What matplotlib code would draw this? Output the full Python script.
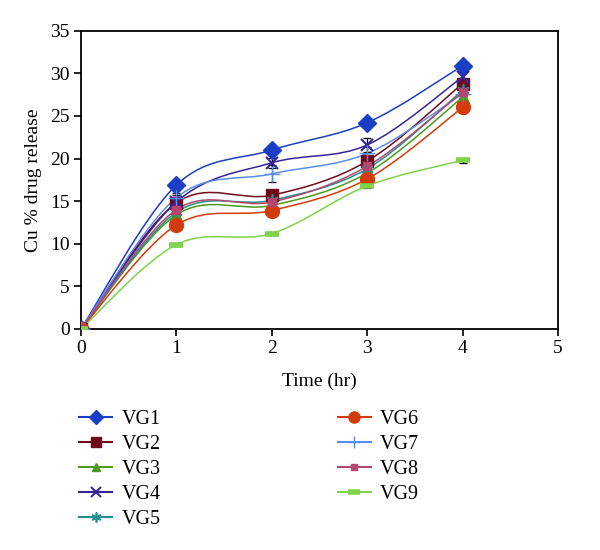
import numpy as np
import matplotlib
matplotlib.use("Agg")
import matplotlib.pyplot as plt
from matplotlib.path import Path
from matplotlib.patches import PathPatch
from matplotlib.lines import Line2D

plt.rcParams["font.family"] = ["Liberation Serif", "DejaVu Serif"]

time_hr = [0, 1, 2, 3, 4]
series_names = ["VG1", "VG2", "VG3", "VG4", "VG5", "VG6", "VG7", "VG8", "VG9"]

vg1 = [0, 16.9, 21.0, 24.2, 30.9]
vg2 = [0, 14.8, 15.7, 19.7, 28.8]
vg3 = [0, 13.4, 14.5, 18.3, 27.2]
vg4 = [0, 14.9, 19.5, 21.6, 29.6]
vg5 = [0, 13.7, 15.1, 18.8, 28.0]
vg6 = [0, 12.2, 13.9, 17.6, 26.0]
vg7 = [0, 15.4, 18.2, 20.6, 27.6]
vg8 = [0, 14.0, 14.9, 19.1, 27.8]
vg9 = [0, 9.9, 11.2, 16.8, 19.8]

err1 = [0, 0.3, 0.3, 0.3, 0.3]
err2 = [0, 0.9, 0.5, 0.6, 0.5]
err3 = [0, 0.4, 0.4, 0.4, 0.4]
err4 = [0, 0.5, 0.6, 0.8, 0.5]
err5 = [0, 0.4, 0.4, 0.4, 0.4]
err6 = [0, 0.4, 0.4, 0.4, 0.6]
err7 = [0, 0.5, 1.0, 0.7, 0.5]
err8 = [0, 0.4, 0.4, 0.4, 0.4]
err9 = [0, 0.2, 0.2, 0.2, 0.3]

values = [vg1, vg2, vg3, vg4, vg5, vg6, vg7, vg8, vg9]
errors = [err1, err2, err3, err4, err5, err6, err7, err8, err9]

colors = ["#1b3fc4", "#70091c", "#4a9a1c", "#35259a", "#24908e",
          "#d23c0c", "#5a8ee6", "#b24872", "#7fd24a"]
markers = ["D", "s", "^", "x", (6, 2, 0), "o", "+", "s", "_"]
msizes = [9, 9, 8, 9, 9, 10, 11, 6, 10]
mews = [1, 1, 1, 1.5, 1.2, 1, 1, 1, 4]


def smooth_path(x, y):
    # Catmull-Rom style bezier through the points (like Excel "smoothed line")
    pts = np.column_stack([x, y]).astype(float)
    n = len(pts)
    verts = [pts[0]]
    codes = [Path.MOVETO]
    for i in range(n - 1):
        p0 = pts[max(i - 1, 0)]
        p1 = pts[i]
        p2 = pts[i + 1]
        p3 = pts[min(i + 2, n - 1)]
        verts += [p1 + (p2 - p0) / 6.0, p2 - (p3 - p1) / 6.0, p2]
        codes += [Path.CURVE4] * 3
    return Path(verts, codes)


fig = plt.figure(figsize=(6, 5.5), dpi=100)
ax = fig.add_axes([0.135, 0.402, 0.795, 0.542])

handles = []
for name, y, e, c, m, ms, mew in zip(series_names, values, errors, colors,
                                     markers, msizes, mews):
    ax.add_patch(PathPatch(smooth_path(time_hr, y), facecolor="none",
                           edgecolor=c, lw=1.1, zorder=2))
    ax.errorbar(time_hr, y, yerr=e, fmt="none", ecolor="black",
                elinewidth=0.9, capsize=3, capthick=0.9, zorder=3)
    ax.plot(time_hr, y, linestyle="none", marker=m, markersize=ms,
            color=c, markeredgecolor=c, markeredgewidth=mew, zorder=4)
    handles.append(Line2D([], [], color=c, lw=1.5, marker=m,
                          markersize=ms * 0.8, markeredgewidth=mew))

ax.set_xlim(0, 5)
ax.set_ylim(0, 35)
ax.set_xticks(range(0, 6))
ax.set_yticks(range(0, 36, 5))
ax.tick_params(direction="out", length=5, width=1.2, labelsize=14,
               top=False, right=False, pad=3)
for s in ax.spines.values():
    s.set_linewidth(1.3)
ax.set_xlabel("Time (hr)", fontsize=14, labelpad=11)
ax.set_ylabel("Cu % drug release", fontsize=14, labelpad=6)

fig.legend(handles, series_names, loc="upper left",
           bbox_to_anchor=(0.132, 0.255), ncol=2, frameon=False,
           borderpad=0, borderaxespad=0,
           fontsize=14.5, handlelength=1.65, handletextpad=0.45,
           columnspacing=8.8, labelspacing=0.3)

fig.savefig("out.png", dpi=100)
